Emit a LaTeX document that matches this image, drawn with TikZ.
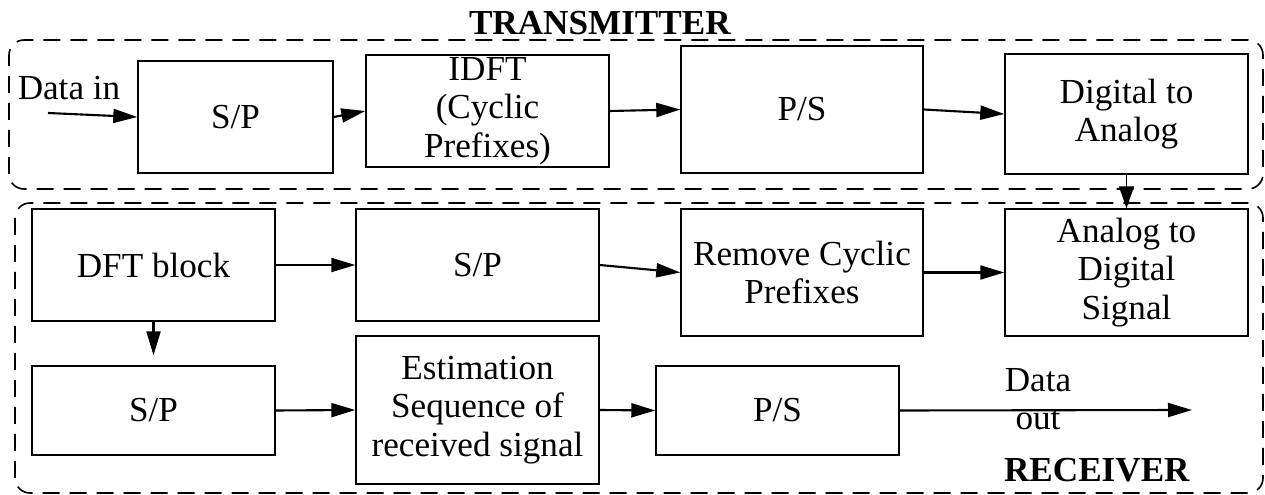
\documentclass[tikz,border=0pt]{standalone}
\usepackage{fontspec}
\setmainfont{Liberation Serif}
\usetikzlibrary{arrows.meta}

\begin{document}
\begin{tikzpicture}[
  blk/.style={draw, line width=0.8pt, text centered, align=center, inner sep=0pt, font=\fontsize{20}{22}\selectfont},
  lbl/.style={inner sep=0pt, align=center, font=\fontsize{20}{22}\selectfont},
  grp/.style={draw, line width=0.9pt, dash pattern=on 0.34cm off 0.2cm, rounded corners=0.3cm},
  flow/.style={line width=1.2pt, -{Triangle[length=0.48cm, width=0.28cm]}}
]%
\useasboundingbox (0,0) rectangle (25.300000, 9.900000);%
\draw[grp] (0.180000, 6.120000) rectangle (25.260000, 9.100000);%
\draw[grp] (0.300000, 0.040000) rectangle (25.260000, 5.840000);%
\node[lbl, anchor=base] (ttl) at (12.000000, 9.200000) {\textbf{TRANSMITTER}};%
\node[lbl, anchor=base] (rttl) at (21.940000, 0.260000) {\textbf{RECEIVER}};%
\node[blk, minimum width=3.900000cm, minimum height=2.240000cm] (sp1) at (4.710000, 7.560000) {S/P};%
\node[blk, minimum width=4.860000cm, minimum height=2.240000cm] (idft) at (9.750000, 7.680000) {IDFT\\(Cyclic\\Prefixes)};%
\node[blk, minimum width=4.840000cm, minimum height=2.540000cm] (ps1) at (16.040000, 7.710000) {P/S};%
\node[blk, minimum width=4.860000cm, minimum height=2.400000cm] (dac) at (22.530000, 7.620000) {Digital to\\Analog};%
\node[blk, minimum width=4.860000cm, minimum height=2.240000cm] (dft) at (3.070000, 4.600000) {DFT block};%
\node[blk, minimum width=4.860000cm, minimum height=2.240000cm] (sp2) at (9.550000, 4.600000) {S/P};%
\node[blk, minimum width=4.840000cm, minimum height=2.540000cm] (rcp) at (16.040000, 4.450000) {Remove Cyclic\\Prefixes};%
\node[blk, minimum width=4.860000cm, minimum height=2.540000cm] (adc) at (22.530000, 4.450000) {Analog to\\Digital\\Signal};%
\node[blk, minimum width=4.860000cm, minimum height=1.780000cm] (sp3) at (3.070000, 1.690000) {S/P};%
\node[blk, minimum width=4.860000cm, minimum height=2.960000cm] (est) at (9.550000, 1.700000) {Estimation\\Sequence of\\received signal};%
\node[blk, minimum width=4.860000cm, minimum height=1.780000cm] (ps2) at (15.550000, 1.690000) {P/S};%
\node[lbl, anchor=base] (din) at (1.380000, 7.900000) {Data in};%
\node[lbl, anchor=base] (dout1) at (20.760000, 2.060000) {Data};%
\node[lbl, anchor=base] (dout2) at (20.760000, 1.300000) {out};%
\coordinate (src) at (0.960000, 7.640000);%
\coordinate (snk) at (23.840000, 1.700000);%
\draw[flow] (src) -- (sp1.west);%
\draw[flow] (sp1.east) -- (idft.west);%
\draw[flow] (idft.east) -- (ps1.west);%
\draw[flow] (ps1.east) -- (dac.west);%
\draw[line width=0.8pt, -{Triangle[length=0.44cm, width=0.3cm]}] (dac.south) -- (adc.north);%
\draw[flow] (dft.east) -- (sp2.west);%
\draw[flow] (sp2.east) -- (rcp.west);%
\draw[flow] (rcp.east) -- (adc.west);%
\draw[flow, shorten >=0.2cm] (dft.south) -- (sp3.north);%
\draw[flow] (sp3.east) -- (est.west);%
\draw[flow] (est.east) -- (ps2.west);%
\draw[flow] (ps2.east) -- (snk);%
\end{tikzpicture}
\end{document}
